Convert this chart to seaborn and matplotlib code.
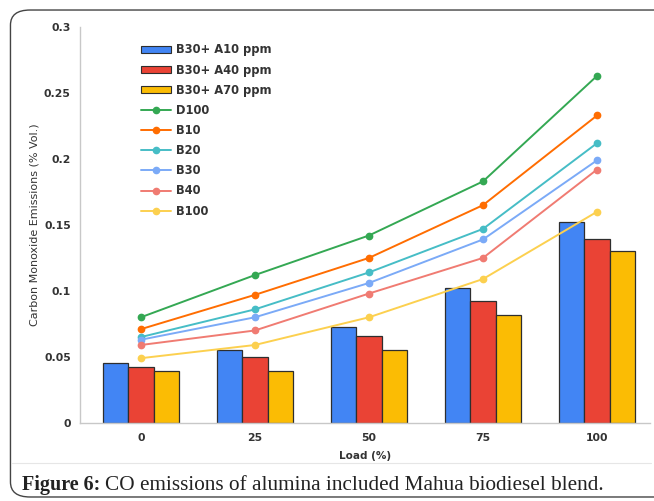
import pandas as pd
import seaborn as sns
import matplotlib.pyplot as plt
from matplotlib.patches import FancyBboxPatch
from matplotlib.lines import Line2D

# CO emissions (% Vol.) against engine load (%)
loads = ["0", "25", "50", "75", "100"]

bar_names = ["B30+ A10 ppm", "B30+ A40 ppm", "B30+ A70 ppm"]
b30_a10 = [0.045, 0.055, 0.073, 0.102, 0.152]
b30_a40 = [0.042, 0.050, 0.066, 0.092, 0.139]
b30_a70 = [0.039, 0.039, 0.055, 0.082, 0.130]

line_names = ["D100", "B10", "B20", "B30", "B40", "B100"]
d100 = [0.080, 0.112, 0.142, 0.183, 0.263]
b10 = [0.071, 0.097, 0.125, 0.165, 0.233]
b20 = [0.065, 0.086, 0.114, 0.147, 0.212]
b30 = [0.063, 0.080, 0.106, 0.139, 0.199]
b40 = [0.059, 0.070, 0.098, 0.125, 0.192]
b100 = [0.049, 0.059, 0.080, 0.109, 0.160]

bar_colors = ["#4285F4", "#EA4335", "#FBBC04"]
line_colors = ["#34A853", "#FF6D01", "#46BDC6", "#7BAAF7", "#F07B72", "#FCD04F"]

bars = pd.DataFrame({"load": loads * 3,
                     "fuel": [n for n in bar_names for _ in loads],
                     "co": b30_a10 + b30_a40 + b30_a70})
lines = pd.DataFrame({"load": loads * 6,
                      "fuel": [n for n in line_names for _ in loads],
                      "co": d100 + b10 + b20 + b30 + b40 + b100})

sns.set_style("white")
plt.rcParams["font.family"] = ["DejaVu Sans"]

fig = plt.figure(figsize=(6.54, 5.01), dpi=100)
ax = fig.add_axes([0.122, 0.156, 0.872, 0.79])

sns.barplot(data=bars, x="load", y="co", hue="fuel", palette=bar_colors, saturation=1,
            width=0.67, edgecolor="#2e2e2e", linewidth=0.9, ax=ax, legend=False)
sns.pointplot(data=lines, x="load", y="co", hue="fuel", palette=line_colors,
              markers="o", markersize=4.5, linewidth=1.4, dodge=False,
              errorbar=None, ax=ax, legend=False)

ax.set_ylim(0, 0.3)
ax.set_xlim(-0.535, 4.465)
ax.set_yticks([0, 0.05, 0.1, 0.15, 0.2, 0.25, 0.3])
ax.set_yticklabels(["0", "0.05", "0.1", "0.15", "0.2", "0.25", "0.3"])
ax.tick_params(axis="both", labelsize=7.8, colors="#bbbbbb", labelcolor="#333333",
               length=3, width=0.8)
ax.tick_params(axis="x", length=0, pad=7)
for lab in ax.get_xticklabels() + ax.get_yticklabels():
    lab.set_fontweight("bold")

for s in ["top", "right"]:
    ax.spines[s].set_visible(False)
for s in ["left", "bottom"]:
    ax.spines[s].set_color("#c8c8c8")
    ax.spines[s].set_linewidth(1.0)

ax.set_xlabel("Load (%)", fontsize=7.5, fontweight="bold", color="#333333", labelpad=6)
ax.set_ylabel("Carbon Monoxide Emissions (% Vol.)", fontsize=8, color="#333333",
              labelpad=3)

# legend: bar swatches first, then the line series
handles = []
for c in bar_colors:
    handles.append(plt.Rectangle((0, 0), 1, 1, facecolor=c, edgecolor="#2e2e2e", linewidth=0.8))
for c in line_colors:
    handles.append(Line2D([0], [0], color=c, marker="o", markersize=4.5, linewidth=1.4))
leg = ax.legend(handles, bar_names + line_names, loc="upper left",
                bbox_to_anchor=(0.09, 0.985), frameon=False, handlelength=2.6,
                handleheight=0.6, labelspacing=0.62, handletextpad=0.4,
                prop={"size": 8.3, "weight": "bold"})
for t in leg.get_texts():
    t.set_color("#333333")

# rounded border and caption
fig.patches.append(FancyBboxPatch((0.016, 0.008), 1.2, 0.972, transform=fig.transFigure,
                                  boxstyle="round,pad=0,rounding_size=0.03",
                                  facecolor="none", edgecolor="#444444", linewidth=1.0))
fig.add_artist(Line2D([0.018, 0.995], [0.075, 0.075], color="#e6e6e6", linewidth=0.8,
                      transform=fig.transFigure))
serif = ["Liberation Serif", "DejaVu Serif"]
head = fig.text(0.034, 0.022, "Figure 6:", fontsize=14.5, fontweight="bold",
                family=serif, color="#222222")
ax.annotate("CO emissions of alumina included Mahua biodiesel blend.",
            xy=(1, 0), xycoords=head, xytext=(3.5, 0), textcoords="offset points",
            fontsize=15.3, family=serif, color="#222222", va="bottom",
            annotation_clip=False)

fig.savefig("out.png", dpi=100)
